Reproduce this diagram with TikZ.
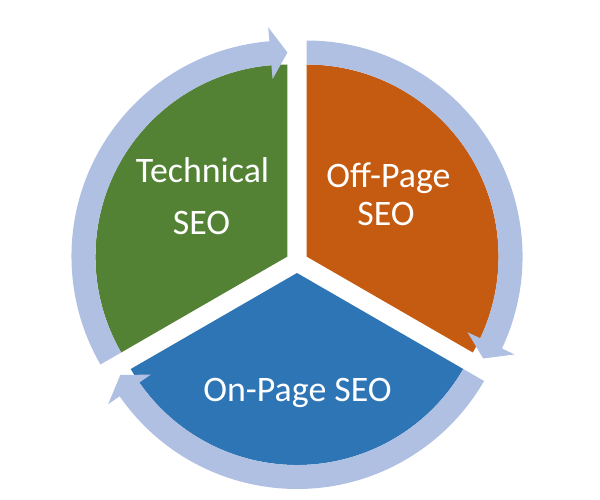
\documentclass[tikz,border=0pt]{standalone}
\usepackage{fontspec}
\setmainfont{Carlito}
\definecolor{techGreen}{HTML}{548235}
\definecolor{offOrange}{HTML}{C55A11}
\definecolor{onBlue}{HTML}{2E75B6}
\definecolor{ringBlue}{HTML}{B0C0E2}
\tikzset{
  ring/.style={fill=ringBlue},
  lbl/.style={text=white,anchor=base,inner sep=0pt,
              font=\fontsize{25.5}{30}\selectfont},
}
% ring arrow: #1 shift angle, #2 tail angle, #3 tip angle (clockwise)
\newcommand\ringarrow[3]{%
  \pgfmathsetmacro\hb{#3+4.8}%
  \fill[ring,shift={(#1:11)}]
    (#2:192) arc[start angle=#2,end angle=\hb,radius=192]
    -- (\hb:178) -- (#3:204) -- (\hb:230) -- (\hb:216)
    arc[start angle=\hb,end angle=#2,radius=216] -- cycle;}

\begin{document}
\begin{tikzpicture}[x=0.025cm,y=0.025cm]
  \useasboundingbox (-297,-238) rectangle (303,262);
  % exploded pie
  \foreach \m/\s/\e/\col in {150/90/210/techGreen,30/-30/90/offOrange,270/210/330/onBlue}
    \fill[\col,shift={(\m:11)}] (0,0) -- (\s:192)
      arc[start angle=\s,end angle=\e,radius=192] -- cycle;
  % arrows round the pie
  \ringarrow{150}{210}{90}
  \ringarrow{30}{90}{-30}
  \ringarrow{270}{330}{210}
  % labels
  \node[lbl] (tech1) at (-94.5,79) {Technical};
  \node[lbl] (tech2) at (-95.5,27) {SEO};
  \node[lbl] (off1) at (91.5,74) {Off-Page};
  \node[lbl] (off2) at (89,36) {SEO};
  \node[lbl] (on) at (0.5,-140) {On-Page SEO};
\end{tikzpicture}
\end{document}
